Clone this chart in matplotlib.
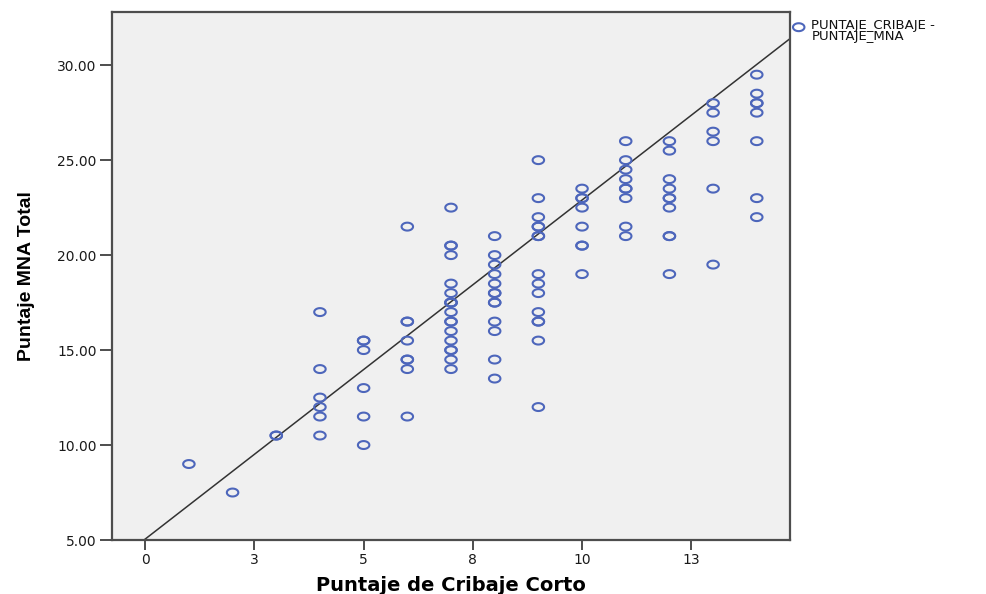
import numpy as np
import matplotlib.pyplot as plt
from matplotlib.path import Path

# Puntaje MNA total para cada valor del puntaje de cribaje corto
cribaje_valores = [1, 2, 3, 4, 5, 6, 7, 8, 9, 10, 11, 12, 13, 14]
mna_por_cribaje = [
    [9.0],
    [7.5],
    [10.5, 10.5],
    [17.0, 14.0, 12.5, 12.0, 11.5, 10.5],
    [15.5, 15.5, 15.0, 13.0, 11.5, 10.0],
    [21.5, 16.5, 16.5, 15.5, 14.5, 14.5, 14.0, 11.5],
    [22.5, 20.5, 20.5, 20.0, 18.5, 18.0, 17.5, 17.5, 17.5, 17.0, 16.5, 16.5,
     16.0, 15.5, 15.0, 15.0, 14.5, 14.0],
    [21.0, 20.0, 19.5, 19.0, 18.5, 18.0, 18.0, 17.5, 17.5, 16.5, 16.0, 14.5, 13.5],
    [25.0, 23.0, 22.0, 21.5, 21.5, 21.0, 21.0, 19.0, 18.5, 18.0, 17.0, 16.5,
     16.5, 15.5, 12.0],
    [23.5, 23.0, 23.0, 22.5, 21.5, 20.5, 20.5, 19.0],
    [26.0, 25.0, 24.5, 24.0, 23.5, 23.5, 23.0, 21.5, 21.0],
    [26.0, 25.5, 24.0, 23.5, 23.0, 23.0, 22.5, 21.0, 21.0, 19.0],
    [28.0, 27.5, 26.5, 26.0, 23.5, 19.5],
    [29.5, 28.5, 28.0, 28.0, 27.5, 26.0, 23.0, 22.0],
]

# recta ajustada
intercepto = 5.05
pendiente = 1.785

xticks = [0, 2.5, 5, 7.5, 10, 12.5]
xticklabels = ["0", "3", "5", "8", "10", "13"]
yticks = [5, 10, 15, 20, 25, 30]

cribaje = [c for c, ys in zip(cribaje_valores, mna_por_cribaje) for _ in ys]
mna = [y for ys in mna_por_cribaje for y in ys]

azul = "#4d66bb"
gris_fondo = "#f0f0f0"
marco = "#4d4d4d"

# circulo algo achatado como marcador
t = np.linspace(0, 2 * np.pi, 60)
elipse = Path(np.column_stack([1.45 * np.cos(t), np.sin(t)]), closed=True)

fig = plt.figure(figsize=(9.86, 5.94), dpi=100)
ax = fig.add_axes([0.1136, 0.0909, 0.6876, 0.8889])
ax.set_facecolor(gris_fondo)

ax.scatter(cribaje, mna, s=68, marker=elipse, facecolors="none",
           edgecolors=azul, linewidths=1.5, zorder=3)

xs = np.array([-0.76, 14.76])
ax.plot(xs, intercepto + pendiente * xs, color="#333333", lw=1.1, zorder=2)

ax.set_xlim(-0.76, 14.76)
ax.set_ylim(5, 32.8)
ax.set_xticks(xticks)
ax.set_xticklabels(xticklabels)
ax.set_yticks(yticks)
ax.set_yticklabels([f"{v:.2f}" for v in yticks])

for s in ax.spines.values():
    s.set_color(marco)
    s.set_linewidth(1.6)
ax.tick_params(direction="out", width=1.4, color=marco,
               labelsize=10, labelcolor="#1a1a1a")
ax.tick_params(axis="x", length=7, pad=2)
ax.tick_params(axis="y", length=9, pad=2)

ax.set_xlabel("Puntaje de Cribaje Corto", fontsize=14, fontweight="bold",
              labelpad=7)
ax.set_ylabel("Puntaje MNA Total", fontsize=14, fontweight="bold",
              labelpad=16, family=['Liberation Sans', 'DejaVu Sans'])

# leyenda a la derecha del marco
ax.scatter([14.96], [32.0], s=68, marker=elipse, facecolors="none",
           edgecolors=azul, linewidths=1.5, clip_on=False)
fig.text(0.823, 0.948, "PUNTAJE_CRIBAJE -\nPUNTAJE_MNA", fontsize=9.5,
         va="center", ha="left", linespacing=0.85, color="#111111")

fig.savefig("out.png", dpi=100, facecolor="white")
